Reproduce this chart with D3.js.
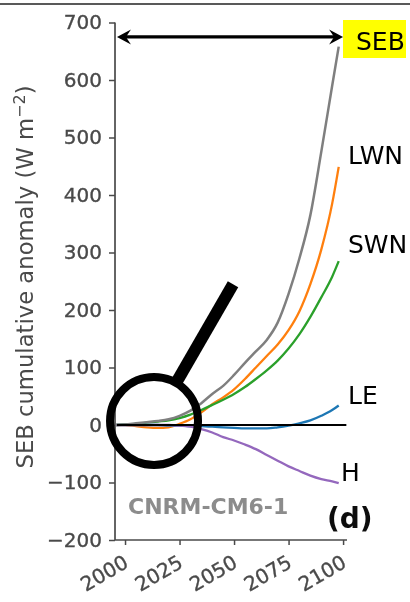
<!DOCTYPE html>
<html>
<head>
<meta charset="utf-8">
<script src="https://cdn.jsdelivr.net/npm/d3@7"></script>
<style>
  html, body { margin: 0; padding: 0; background: #fff; }
  svg { display: block; font-family: "DejaVu Sans", sans-serif; }
</style>
</head>
<body>
<svg id="chart" width="410" height="602"></svg>
<script>
// Cumulative surface-energy-budget anomalies (W m-2), CNRM-CM6-1
const years = [1996, 2000, 2005, 2010, 2015, 2020, 2025, 2030, 2035, 2040, 2045, 2050, 2055, 2060, 2065, 2070, 2075, 2080, 2085, 2090, 2095, 2098];
const seb = [0, 1, 3, 5, 7, 10, 16, 25, 38, 54, 68, 87, 108, 128, 148, 178, 228, 290, 365, 475, 590, 658];
const lwn = [0, 0, -2, -4, -5, -4, 2, 10, 22, 36, 48, 62, 80, 100, 120, 140, 165, 198, 245, 305, 385, 449];
const swn = [0, 1, 2, 4, 6, 8, 12, 18, 26, 35, 44, 54, 66, 80, 95, 112, 133, 158, 188, 222, 258, 285];
const le  = [0, 0, 0, 0, 0, -1, -1, -2, -2, -3, -4, -5, -6, -6, -6, -4, -1, 3, 8, 16, 26, 34];
const hfx = [0, 0, 0, 0, 0, 0, -1, -3, -7, -13, -21, -27, -34, -42, -52, -62, -72, -80, -88, -94, -98, -101];

const seriesNames = ["LWN", "SWN", "LE", "H", "SEB"];
const seriesValues = [lwn, swn, le, hfx, seb];
const seriesColors = ["#ff7f0e", "#2ca02c", "#1f77b4", "#9467bd", "#7f7f7f"];

const xTicks = [2000, 2025, 2050, 2075, 2100];
const yTicks = [-200, -100, 0, 100, 200, 300, 400, 500, 600, 700];

const svg = d3.select("#chart");

const x = d3.scaleLinear().domain([1995.4, 2101.8]).range([115, 347]);
const y = d3.scaleLinear().domain([-200, 700]).range([540, 22.5]);

// soft rendering for the plotted panel
const defs = svg.append("defs");
defs.append("filter").attr("id", "soft")
  .attr("x", "-5%").attr("y", "-5%").attr("width", "110%").attr("height", "110%")
  .append("feGaussianBlur").attr("stdDeviation", 0.6);

// rule across the top of the page
svg.append("line").attr("x1", 0).attr("x2", 410).attr("y1", 4).attr("y2", 4)
  .attr("stroke", "#222").attr("stroke-width", 1.5);

const panel = svg.append("g").attr("filter", "url(#soft)");
const axisInk = "#4a4a4a";

// y axis
const yAxis = panel.append("g").attr("transform", `translate(${x.range()[0]},0)`)
  .call(d3.axisLeft(y).tickValues(yTicks).tickSize(6).tickPadding(7)
    .tickFormat(d => d < 0 ? "\u2212" + Math.abs(d) : d));
yAxis.select(".domain").attr("stroke", axisInk).attr("stroke-width", 1.7)
  .attr("d", `M0,${y(700)}V${y(-200)}`);
yAxis.selectAll(".tick line").attr("stroke", axisInk).attr("stroke-width", 1.5);
yAxis.selectAll(".tick text").attr("fill", axisInk).attr("font-size", 20)
  .attr("stroke", axisInk).attr("stroke-width", 0.35)
  .attr("font-family", "DejaVu Sans");

// x axis
const xAxis = panel.append("g").attr("transform", `translate(0,${y.range()[0]})`)
  .call(d3.axisBottom(x).tickValues(xTicks).tickSize(5).tickFormat(d3.format("d")));
xAxis.select(".domain").attr("stroke", axisInk).attr("stroke-width", 1.7)
  .attr("d", `M${x.range()[0]},0H${x.range()[1]}`);
xAxis.selectAll(".tick line").attr("stroke", axisInk).attr("stroke-width", 1.5);
xAxis.selectAll(".tick text")
  .attr("fill", axisInk).attr("stroke", axisInk).attr("stroke-width", 0.35)
  .attr("font-size", 20).attr("font-family", "DejaVu Sans")
  .attr("text-anchor", "end")
  .attr("x", -3).attr("y", 14).attr("dy", "0.72em")
  .attr("transform", "rotate(-30 -3 14)");

// y-axis title
panel.append("text")
  .attr("transform", `translate(33,277) rotate(-90)`)
  .attr("text-anchor", "middle").attr("font-size", 22.7).attr("fill", axisInk)
  .call(t => {
    t.append("tspan").text("SEB cumulative anomaly (W m");
    t.append("tspan").attr("font-size", 16).attr("dy", -8).text("\u22122");
    t.append("tspan").attr("dy", 8).text(")");
  });

// series lines
const line = d3.line().x((d, i) => x(years[i])).y(d => y(d)).curve(d3.curveMonotoneX);
seriesValues.forEach((vals, k) => {
  panel.append("path").datum(vals)
    .attr("d", line)
    .attr("fill", "none")
    .attr("stroke", seriesColors[k])
    .attr("stroke-width", seriesNames[k] === "SEB" ? 2.5 : 2.3)
    .attr("stroke-linejoin", "round");
});

// zero reference line
panel.append("line")
  .attr("x1", x(1996.3)).attr("x2", x(2101.5))
  .attr("y1", y(0)).attr("y2", y(0))
  .attr("stroke", "#000").attr("stroke-width", 2);

// model name and panel letter
panel.append("text").attr("x", 128).attr("y", 514)
  .attr("font-size", 22).attr("font-weight", "bold").attr("fill", "#8c8c8c")
  .text("CNRM-CM6-1");
panel.append("text").attr("x", 327).attr("y", 528)
  .attr("font-size", 28).attr("font-weight", "bold").attr("fill", "#111")
  .text("(d)");

// double-headed arrow spanning the period at the final SEB level
const arrowY = y(675);
const ax0 = x(1996.3), ax1 = x(2100);
svg.append("line").attr("x1", ax0 + 6).attr("x2", ax1 - 6)
  .attr("y1", arrowY).attr("y2", arrowY)
  .attr("stroke", "#000").attr("stroke-width", 3.2);
const head = "M0,0 L14,-7.5 L9,0 L14,7.5 Z";
svg.append("path").attr("d", head)
  .attr("transform", `translate(${ax0},${arrowY})`).attr("fill", "#000");
svg.append("path").attr("d", head)
  .attr("transform", `translate(${ax1},${arrowY}) scale(-1,1)`).attr("fill", "#000");

// end-of-series labels
svg.append("rect").attr("x", 343).attr("y", 20).attr("width", 63).attr("height", 38)
  .attr("fill", "#ffff00");
const labels = [
  { t: "SEB", x: 356, y: 50 },
  { t: "LWN", x: 348, y: 164 },
  { t: "SWN", x: 348, y: 253 },
  { t: "LE", x: 348, y: 404 },
  { t: "H", x: 341, y: 481 }
];
svg.selectAll("text.lbl").data(labels).enter().append("text")
  .attr("class", "lbl")
  .attr("x", d => d.x).attr("y", d => d.y)
  .attr("font-size", 25).attr("fill", "#000")
  .text(d => d.t);

// magnifier over the early-century period
const cx = x(2013.3), cy = y(7), r = 44;
const ang = -60 * Math.PI / 180;
svg.append("circle").attr("cx", cx).attr("cy", cy).attr("r", r)
  .attr("fill", "none").attr("stroke", "#000").attr("stroke-width", 8);
svg.append("line")
  .attr("x1", cx + (r + 2) * Math.cos(ang)).attr("y1", cy + (r + 2) * Math.sin(ang))
  .attr("x2", cx + 158 * Math.cos(ang)).attr("y2", cy + 158 * Math.sin(ang))
  .attr("stroke", "#000").attr("stroke-width", 12);
</script>
</body>
</html>
